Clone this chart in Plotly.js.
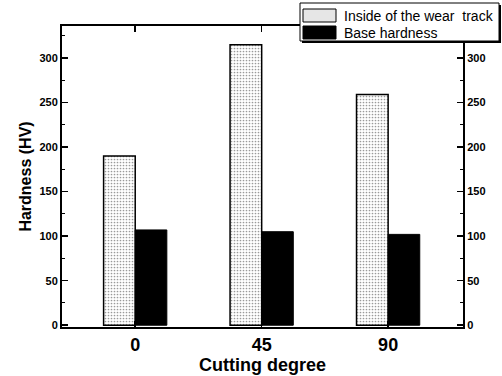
<!DOCTYPE html>
<html>
<head>
<meta charset="utf-8">
<script src="https://cdn.plot.ly/plotly-3.0.1.min.js"></script>
<style>html,body{margin:0;padding:0;background:#fff;}#chart{width:502px;height:376px;}</style>
</head>
<body>
<div id="chart"></div>
<script>
const categories = ['0', '45', '90'];
const insideValues = [190, 315, 259];
const baseValues = [107, 105, 102];
const seriesNames = ['Inside of the wear\u00a0 track', 'Base hardness'];
const yTicks = [0, 50, 100, 150, 200, 250, 300];

const FONT = 'Liberation Sans, Arial, sans-serif';
const L = 62, R = 39, T = 26, B = 49, W = 502, H = 376;
const pw = W - L - R, ph = H - T - B;
const px = x => (x - L) / pw;
const py = y => (H - B - y) / ph;

const traces = [
  {
    type: 'bar', x: categories, y: insideValues, name: seriesNames[0],
    marker: {color: '#ffffff', line: {color: '#000', width: 1.5},
      pattern: {shape: '.', fgcolor: '#9a9a9a', bgcolor: '#ffffff', size: 3, solidity: 0.25}},
    hoverinfo: 'x+y'
  },
  {
    type: 'bar', x: categories, y: baseValues, name: seriesNames[1],
    marker: {color: '#000000', line: {color: '#000', width: 1}},
    hoverinfo: 'x+y'
  },
  // empty trace so that the mirrored right-hand axis is drawn
  {type: 'scatter', mode: 'markers', x: [categories[0]], y: [null], yaxis: 'y2', showlegend: false, hoverinfo: 'skip'}
];

const yRange = [-2, 336];
const axisCommon = {
  showgrid: false, zeroline: false, showline: true, linecolor: '#000', linewidth: 2,
  ticks: 'inside', ticklen: 6, tickwidth: 1.5, tickcolor: '#000'
};

const layout = {
  width: W, height: H,
  margin: {l: L, r: R, t: T, b: B, pad: 0},
  paper_bgcolor: '#fff', plot_bgcolor: '#fff',
  barmode: 'group', bargap: 0.5, bargroupgap: 0,
  showlegend: false,
  font: {family: FONT, color: '#000'},
  xaxis: Object.assign({}, axisCommon, {
    type: 'category', range: [-0.579, 2.592], mirror: 'ticks',
    tickfont: {family: FONT, size: 18, color: '#000', weight: 'bold'},
    title: {text: 'Cutting degree', font: {family: FONT, size: 18, color: '#000', weight: 'bold'}, standoff: 2}
  }),
  yaxis: Object.assign({}, axisCommon, {
    range: yRange, tickvals: yTicks, ticktext: yTicks.map(String),
    minor: {ticks: 'inside', ticklen: 3, tickwidth: 1, tickcolor: '#000', dtick: 25, showgrid: false},
    tickfont: {family: FONT, size: 11, color: '#000', weight: 'bold'},
    title: {text: 'Hardness (HV)', font: {family: FONT, size: 16, color: '#000', weight: 'bold'}, standoff: 4}
  }),
  yaxis2: Object.assign({}, axisCommon, {
    overlaying: 'y', side: 'right', range: yRange, tickvals: yTicks, ticktext: yTicks.map(String),
    minor: {ticks: 'inside', ticklen: 3, tickwidth: 1, tickcolor: '#000', dtick: 25, showgrid: false},
    tickfont: {family: FONT, size: 11, color: '#000', weight: 'bold'}
  }),
  shapes: [
    {type: 'rect', xref: 'paper', yref: 'paper', x0: px(302), x1: px(501), y0: py(43), y1: py(5),
      fillcolor: '#000', line: {width: 0}, layer: 'above'},
    {type: 'rect', xref: 'paper', yref: 'paper', x0: px(300), x1: px(499), y0: py(41), y1: py(3),
      fillcolor: '#fff', line: {color: '#000', width: 1}, layer: 'above'},
    {type: 'rect', xref: 'paper', yref: 'paper', x0: px(303), x1: px(336), y0: py(22), y1: py(9),
      fillcolor: '#e6e6e6', line: {color: '#000', width: 1}, layer: 'above'},
    {type: 'rect', xref: 'paper', yref: 'paper', x0: px(303), x1: px(336), y0: py(39), y1: py(26),
      fillcolor: '#000', line: {color: '#000', width: 1}, layer: 'above'}
  ],
  annotations: [
    {xref: 'paper', yref: 'paper', x: px(342), y: py(16), xanchor: 'left', yanchor: 'middle',
      text: seriesNames[0], showarrow: false, font: {family: FONT, size: 14, color: '#000'}},
    {xref: 'paper', yref: 'paper', x: px(342), y: py(33), xanchor: 'left', yanchor: 'middle',
      text: seriesNames[1], showarrow: false, font: {family: FONT, size: 14, color: '#000'}}
  ]
};

Plotly.newPlot('chart', traces, layout, {displayModeBar: false, staticPlot: true});
</script>
</body>
</html>
